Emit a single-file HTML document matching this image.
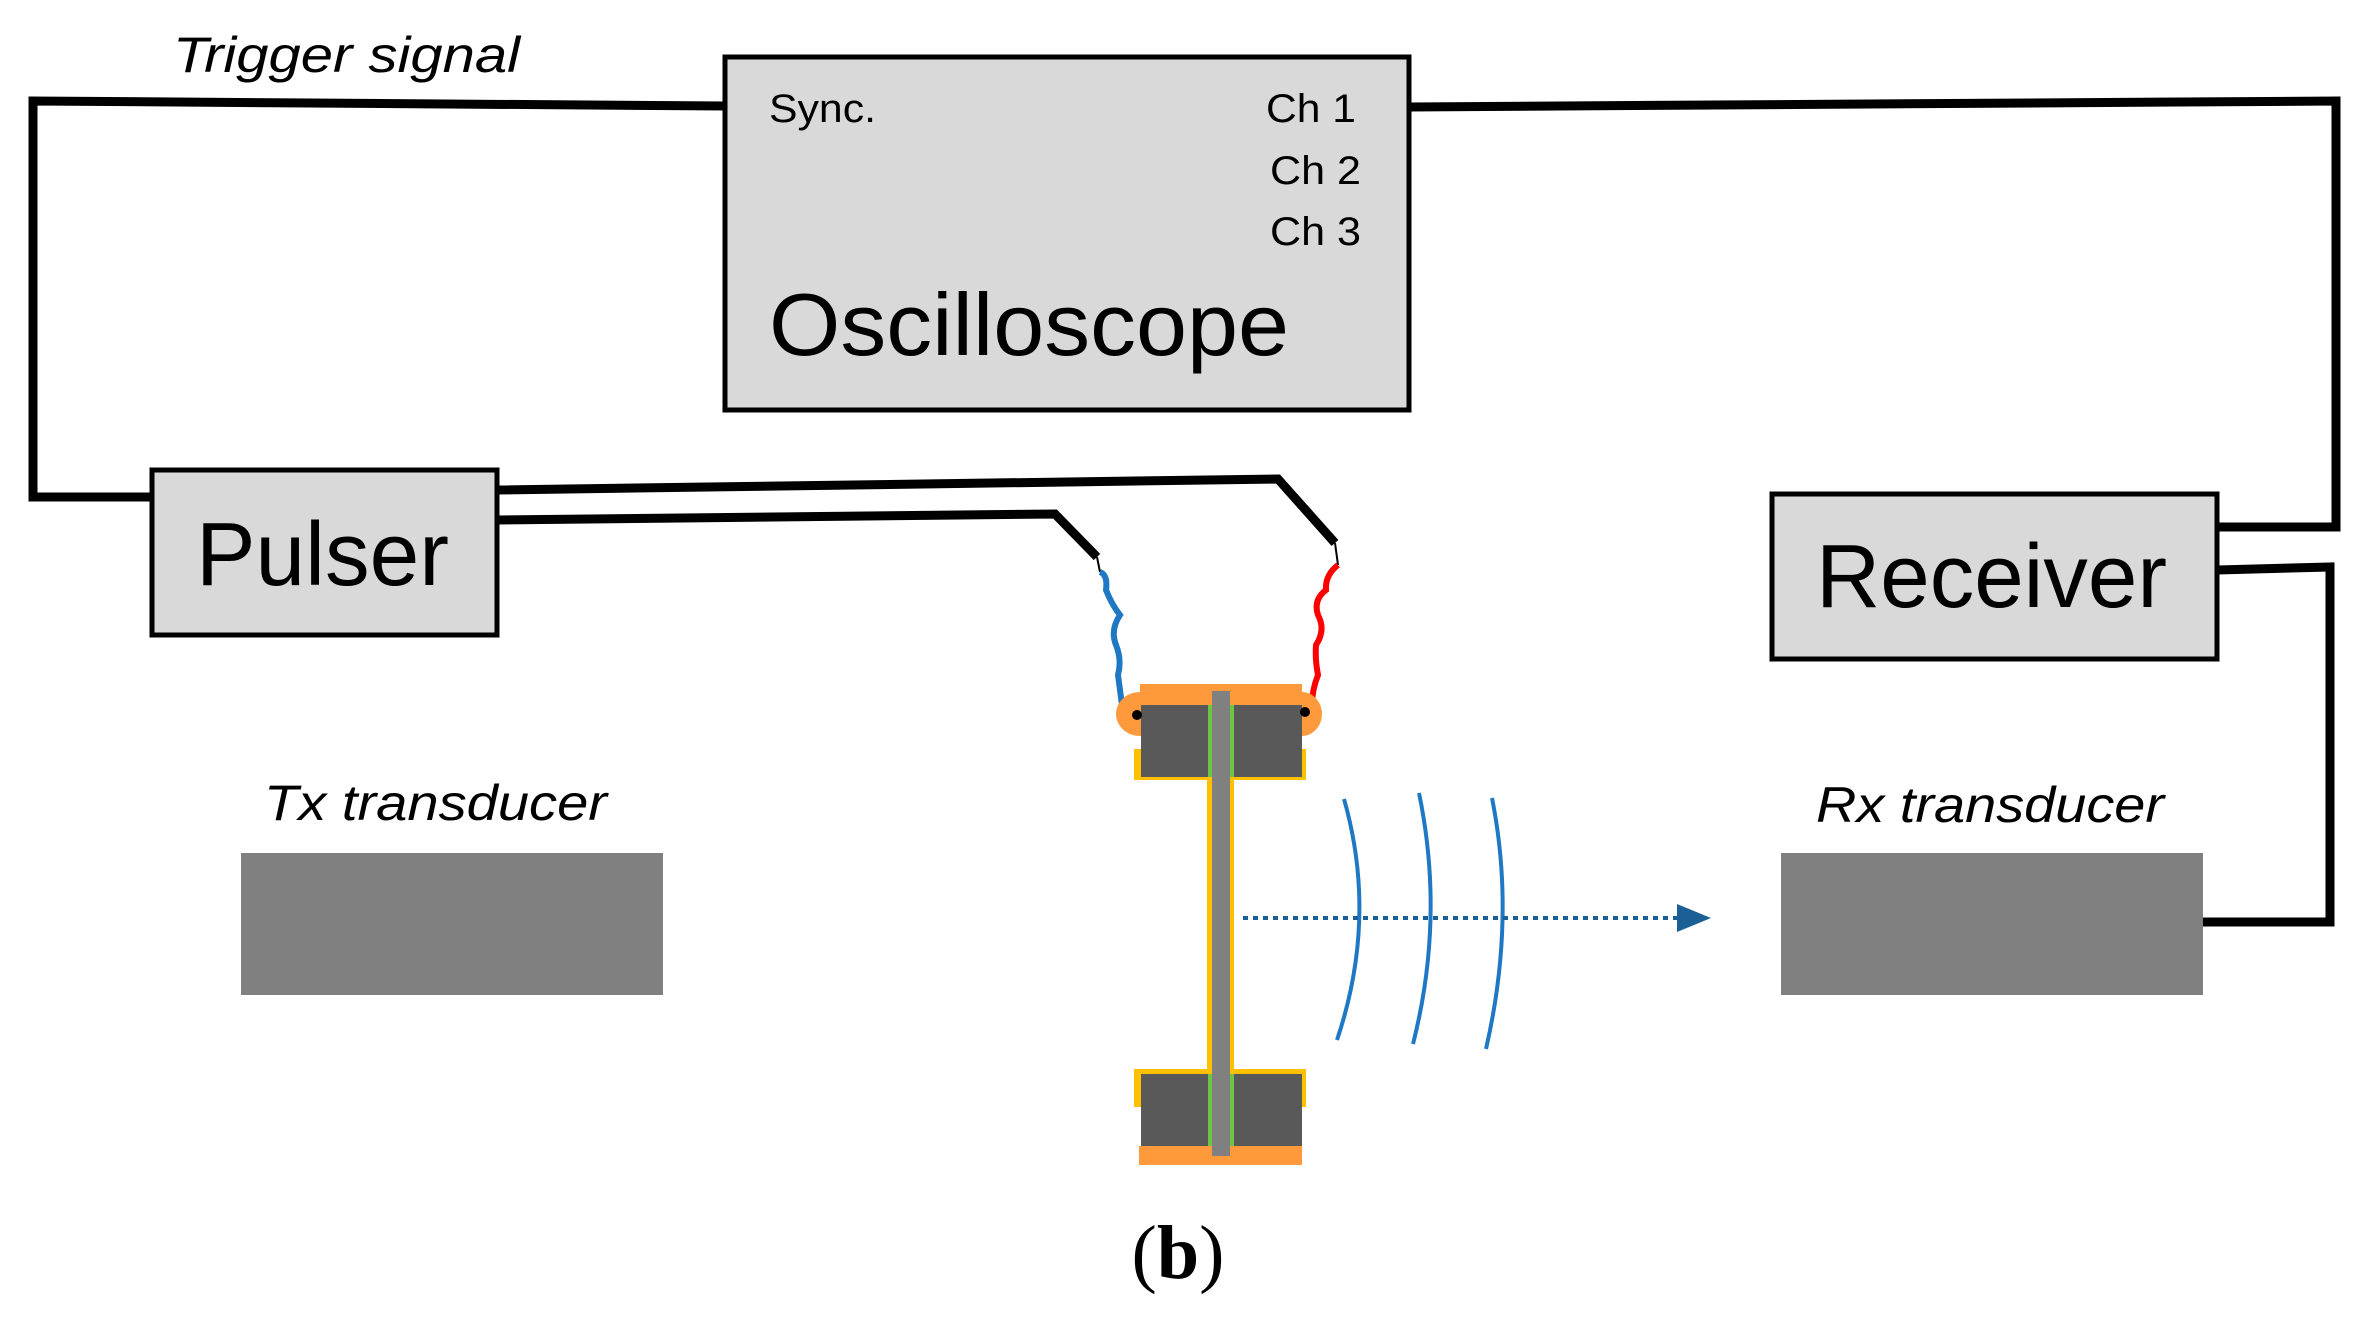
<!DOCTYPE html>
<html><head><meta charset="utf-8"><style>html,body{margin:0;padding:0;background:#fff}svg{display:block}</style></head>
<body>
<svg width="2363" height="1320" viewBox="0 0 2363 1320" xmlns="http://www.w3.org/2000/svg">
<g fill="none" stroke="#000" stroke-width="9" stroke-linejoin="miter">
<polyline points="725,106 33,101 33,497 152,497"/>
<polyline points="1409,107 2336,101 2336,527 2217,527"/>
<polyline points="2217,570 2330,567 2330,922 2203,922"/>
<polyline points="497,490 1278,479 1335,543"/>
<polyline points="497,520 1055,514 1097,557"/>
</g>
<g fill="none" stroke="#000" stroke-width="2">
<line x1="1335" y1="543" x2="1338" y2="565"/>
<line x1="1097" y1="557" x2="1100" y2="572"/>
</g>
<path d="M1338,565 Q1325,575 1326,590 Q1313,600 1318,615 Q1326,630 1316,645 Q1315,660 1318,675 Q1312,690 1312,705" fill="none" stroke="#ff0000" stroke-width="6"/>
<path d="M1100,572 Q1108,575 1106,590 Q1112,605 1120,615 Q1110,630 1116,645 Q1122,660 1118,675 Q1120,690 1122,705" fill="none" stroke="#1f78c4" stroke-width="6"/>
<rect x="725" y="57" width="684" height="353" fill="#d9d9d9" stroke="#000" stroke-width="5"/>
<rect x="152" y="470" width="345" height="165" fill="#d9d9d9" stroke="#000" stroke-width="5"/>
<rect x="1772" y="494" width="445" height="165" fill="#d9d9d9" stroke="#000" stroke-width="5"/>
<rect x="241" y="853" width="422" height="142" fill="#808080"/>
<rect x="1781" y="853" width="422" height="142" fill="#808080"/>
<ellipse cx="1140" cy="714" rx="24" ry="22" fill="#ff9a3c"/>
<ellipse cx="1302" cy="714" rx="20" ry="22" fill="#ff9a3c"/>
<rect x="1140" y="684" width="162" height="22" fill="#ff9a3c"/>
<rect x="1134" y="749" width="172" height="31" fill="#ffc000"/>
<rect x="1134" y="1069" width="172" height="38" fill="#ffc000"/>
<rect x="1207" y="705" width="27" height="440" fill="#ffc000"/>
<rect x="1141" y="705" width="68" height="72" fill="#595959"/>
<rect x="1233" y="705" width="69" height="72" fill="#595959"/>
<rect x="1141" y="1074" width="68" height="72" fill="#595959"/>
<rect x="1233" y="1074" width="69" height="72" fill="#595959"/>
<rect x="1208" y="705" width="4" height="72" fill="#6cc644"/>
<rect x="1230" y="705" width="4" height="72" fill="#6cc644"/>
<rect x="1208" y="1074" width="4" height="72" fill="#6cc644"/>
<rect x="1230" y="1074" width="4" height="72" fill="#6cc644"/>
<rect x="1139" y="1146" width="163" height="19" fill="#ff9a3c"/>
<rect x="1212" y="691" width="18" height="465" fill="#808080"/>
<circle cx="1137" cy="715" r="5" fill="#000"/>
<circle cx="1305" cy="712" r="5" fill="#000"/>
<g fill="none" stroke="#1f78c4" stroke-width="4">
<path d="M1344,799 Q1378,918 1337,1040"/>
<path d="M1419,793 Q1445,918 1413,1044"/>
<path d="M1492,798 Q1516,918 1486,1049"/>
</g>
<line x1="1243" y1="918" x2="1680" y2="918" stroke="#1a5f96" stroke-width="4" stroke-dasharray="5,5"/>
<polygon points="1677,904 1711,918 1677,932" fill="#1a5f96"/>
<g font-family="Liberation Sans, sans-serif" fill="#000">
<text x="173" y="72" font-size="50" font-style="italic" textLength="347" lengthAdjust="spacingAndGlyphs">Trigger signal</text>
<text x="769" y="122" font-size="40" textLength="107" lengthAdjust="spacingAndGlyphs">Sync.</text>
<text x="1266" y="122" font-size="40" textLength="90" lengthAdjust="spacingAndGlyphs">Ch 1</text>
<text x="1270" y="184" font-size="40" textLength="91" lengthAdjust="spacingAndGlyphs">Ch 2</text>
<text x="1270" y="245" font-size="40" textLength="91" lengthAdjust="spacingAndGlyphs">Ch 3</text>
<text x="769" y="355" font-size="88" textLength="520" lengthAdjust="spacingAndGlyphs">Oscilloscope</text>
<text x="196" y="585" font-size="90" textLength="253" lengthAdjust="spacingAndGlyphs">Pulser</text>
<text x="1816" y="607" font-size="90" textLength="351" lengthAdjust="spacingAndGlyphs">Receiver</text>
<text x="264" y="820" font-size="50" font-style="italic" textLength="343" lengthAdjust="spacingAndGlyphs">Tx transducer</text>
<text x="1816" y="822" font-size="50" font-style="italic" textLength="348" lengthAdjust="spacingAndGlyphs">Rx transducer</text>
</g>
<text x="1178" y="1278" font-family="Liberation Serif, serif" font-size="76" text-anchor="middle">(<tspan font-weight="bold">b</tspan>)</text>
</svg>
</body></html>
